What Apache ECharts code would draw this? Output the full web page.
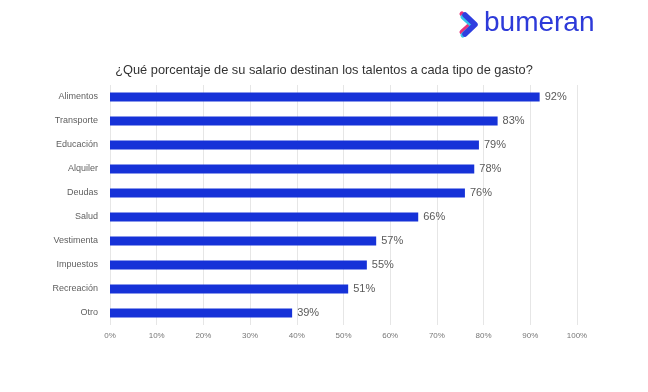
<!DOCTYPE html>
<html><head><meta charset="utf-8">
<script src="https://cdn.jsdelivr.net/npm/echarts@6/dist/echarts.min.js"></script>
<style>html,body{margin:0;padding:0;background:#fff}#c{width:648px;height:392px}</style>
</head><body><div id="c"></div>
<script>
const categories = ["Alimentos","Transporte","Educación","Alquiler","Deudas","Salud","Vestimenta","Impuestos","Recreación","Otro"];
const values = [92,83,79,78,76,66,57,55,51,39];
const titleText = "¿Qué porcentaje de su salario destinan los talentos a cada tipo de gasto?";
const chart = echarts.init(document.getElementById('c'));
chart.setOption({
  animation:false,
  backgroundColor:'#fff',
  title:{text:titleText,left:'center',top:59,textStyle:{fontFamily:'Arial, Liberation Sans',fontSize:12.8,fontWeight:'normal',color:'#333'}},
  grid:{left:110,right:71,top:85,height:240},
  xAxis:{type:'value',min:0,max:100,interval:10,
    axisLabel:{formatter:'{value}%',fontFamily:'Arial, Liberation Sans',fontSize:8,color:'#777',margin:7},
    splitLine:{lineStyle:{color:'#e6e6e6'}},axisLine:{show:false},axisTick:{show:false}},
  yAxis:{type:'category',data:categories,inverse:true,
    axisLabel:{fontFamily:'Arial, Liberation Sans',fontSize:9,color:'#606060',margin:12},
    axisLine:{show:false},axisTick:{show:false}},
  series:[{type:'bar',data:values,barWidth:9,itemStyle:{color:'#1632d8'},
    label:{show:true,position:'right',formatter:'{c}%',fontFamily:'Arial, Liberation Sans',fontSize:11,color:'#5a5a5a',distance:5}}],
  graphic:[
    {type:'polyline',shape:{points:[[462,14],[472,23],[462,32]]},style:{stroke:'#e8327c',lineWidth:5,lineCap:'round',lineJoin:'round',fill:null}},
    {type:'polyline',shape:{points:[[463,17],[473,26],[463,35]]},style:{stroke:'#36c6e8',lineWidth:5,lineCap:'round',lineJoin:'round',fill:null}},
    {type:'polyline',shape:{points:[[465,15],[475,24.5],[465,34]]},style:{stroke:'#2e3ee0',lineWidth:5.5,lineCap:'round',lineJoin:'round',fill:null}},
    {type:'text',left:484,top:9,style:{text:'bumeran',fontFamily:'Arial, Liberation Sans',fontSize:28,fill:'#2d3ad9'}}
  ]
});
</script></body></html>
